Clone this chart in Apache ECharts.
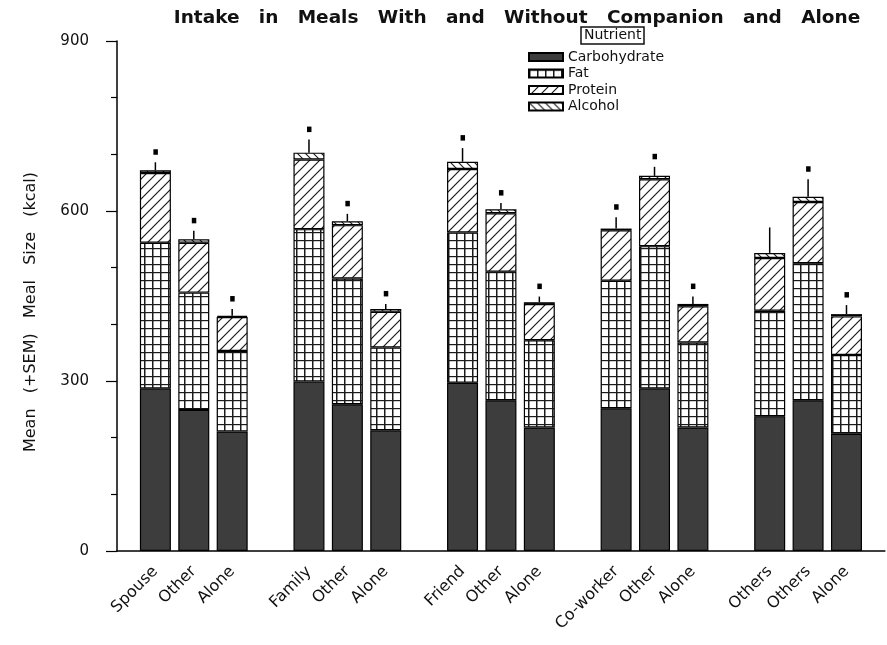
<!DOCTYPE html>
<html>
<head>
<meta charset="utf-8">
<script src="https://cdn.jsdelivr.net/npm/echarts@6/dist/echarts.min.js"></script>
<style>
  html, body { margin: 0; padding: 0; background: #fff; }
  #chart { width: 887px; height: 645px; }
</style>
</head>
<body>
<div id="chart"></div>
<script>
// Mean meal size (kcal) split by macronutrient, for meals eaten with a companion,
// with others, and alone.
const barLabels = ['Spouse', 'Other', 'Alone', 'Family', 'Other', 'Alone', 'Friend', 'Other', 'Alone',
                   'Co-worker', 'Other', 'Alone', 'Others', 'Others', 'Alone'];
const carbohydrate = [287, 249, 211, 299, 259, 213, 297, 266, 218, 252, 287, 218, 238, 266, 207];
const fat          = [257, 207, 142, 269, 222, 146, 265, 227, 154, 225, 251, 150, 186, 242, 139];
const protein      = [123,  88,  60, 123,  94,  63, 112, 103,  64,  89, 118,  64,  93, 108,  68];
const alcohol      = [  5,   6,   2,  12,   7,   5,  13,   7,   3,   3,   6,   4,   9,   9,   4];
const sem          = [ 14,  15,  12,  23,  13,   9,  24,  11,  10,  20,  16,  13,  45,  31,  16];
const significant  = [  1,   1,   1,   1,   1,   1,   1,   1,   1,   1,   1,   1,   0,   1,   1];
const nutrientNames = ['Carbohydrate', 'Fat', 'Protein', 'Alcohol'];
const yMax = 900, yStep = 300;

const FONT = 'DejaVu Sans';
const INK = '#111';

// three bars per group, an empty slot between groups and at both ends
const groupSize = 3;
const slotOf = i => 1 + i + Math.floor(i / groupSize);
const slotCount = slotOf(barLabels.length - 1) + 2;
const axisCategories = new Array(slotCount).fill('');
barLabels.forEach((name, i) => { axisCategories[slotOf(i)] = name; });

function toSlots(values) {
  const out = new Array(slotCount).fill('-');
  values.forEach((v, i) => { out[slotOf(i)] = v; });
  return out;
}

// fill patterns
function tile(w, h, draw) {
  const c = document.createElement('canvas');
  c.width = w; c.height = h;
  const ctx = c.getContext('2d');
  ctx.fillStyle = '#fff';
  ctx.fillRect(0, 0, w, h);
  ctx.strokeStyle = '#1a1a1a';
  draw(ctx);
  return { image: c, repeat: 'repeat' };
}
const gridFill = tile(8, 8, ctx => {
  ctx.lineWidth = 1.5;
  ctx.beginPath(); ctx.moveTo(0.75, 0); ctx.lineTo(0.75, 8); ctx.stroke();
  ctx.lineWidth = 1.2;
  ctx.beginPath(); ctx.moveTo(0, 0.6); ctx.lineTo(8, 0.6); ctx.stroke();
});
const forwardHatch = tile(10, 10, ctx => {
  ctx.lineWidth = 1.2;
  ctx.beginPath();
  ctx.moveTo(-1, 11); ctx.lineTo(11, -1);
  ctx.moveTo(-1, 1); ctx.lineTo(1, -1);
  ctx.moveTo(9, 11); ctx.lineTo(11, 9);
  ctx.stroke();
});
const backHatch = tile(8, 8, ctx => {
  ctx.lineWidth = 1.1;
  ctx.beginPath();
  ctx.moveTo(-1, -1); ctx.lineTo(9, 9);
  ctx.moveTo(7, -1); ctx.lineTo(9, 1);
  ctx.moveTo(-1, 7); ctx.lineTo(1, 9);
  ctx.stroke();
});
const fills = ['#3d3d3d', gridFill, forwardHatch, backHatch];
const layers = [carbohydrate, fat, protein, alcohol];

const barSeries = layers.map((vals, k) => ({
  name: nutrientNames[k],
  type: 'bar',
  stack: 'meal',
  barWidth: 31,
  data: toSlots(vals),
  itemStyle: { color: fills[k], borderColor: '#000', borderWidth: 1.2 },
  emphasis: { disabled: true },
  animation: false
}));

// error bars (+SEM) and significance markers
const errorData = barLabels.map((_, i) => [
  slotOf(i),
  carbohydrate[i] + fat[i] + protein[i] + alcohol[i],
  sem[i],
  significant[i]
]);
const errorSeries = {
  type: 'custom',
  data: errorData,
  encode: { x: 0, y: 1 },
  z: 5,
  silent: true,
  animation: false,
  renderItem(params, api) {
    const x = api.value(0), total = api.value(1), err = api.value(2), mark = api.value(3);
    const base = api.coord([x, total]);
    const top = api.coord([x, total + err]);
    const children = [{
      type: 'line',
      shape: { x1: base[0], y1: base[1], x2: top[0], y2: top[1] },
      style: { stroke: '#000', lineWidth: 1.5 }
    }];
    if (mark) {
      children.push({
        type: 'rect',
        shape: { x: top[0] - 2, y: top[1] - 13, width: 4.5, height: 5.5 },
        style: { fill: '#000' }
      });
    }
    return { type: 'group', children };
  }
};

const chart = echarts.init(document.getElementById('chart'), null, { renderer: 'canvas' });
chart.setOption({
  backgroundColor: '#fff',
  animation: false,
  title: [{
    text: 'Intake   in   Meals   With   and   Without   Companion   and   Alone',
    left: 512,
    top: 4,
    textAlign: 'center',
    textStyle: { fontFamily: FONT, fontWeight: 'bold', fontSize: 18.5, color: INK }
  }, {
    text: 'Nutrient',
    left: 581,
    top: 27,
    padding: [1, 3, 1, 3],
    borderColor: '#111',
    borderWidth: 1.5,
    textStyle: { fontFamily: FONT, fontWeight: 'normal', fontSize: 14, color: INK, lineHeight: 15 }
  }],
  legend: {
    data: nutrientNames,
    orient: 'vertical',
    left: 528,
    top: 50,
    padding: 0,
    icon: 'rect',
    itemWidth: 34,
    itemHeight: 8,
    itemGap: 2.5,
    selectedMode: false,
    textStyle: { fontFamily: FONT, fontSize: 14, color: INK, lineHeight: 14 }
  },
  grid: { left: 117, top: 41, width: 770, height: 510 },
  xAxis: {
    type: 'category',
    data: axisCategories,
    boundaryGap: false,
    axisLine: { lineStyle: { color: '#000', width: 1.5 } },
    axisTick: { show: false },
    axisLabel: {
      interval: 0,
      rotate: 45,
      margin: 18,
      fontFamily: FONT,
      fontSize: 16,
      color: INK
    },
    splitLine: { show: false }
  },
  yAxis: {
    type: 'value',
    min: 0,
    max: yMax,
    interval: yStep,
    name: 'Mean   (+SEM)   Meal   Size   (kcal)',
    nameLocation: 'middle',
    nameGap: 78,
    nameTextStyle: { fontFamily: FONT, fontSize: 16, color: INK, padding: [0, 32, 0, 0] },
    axisLine: { show: true, lineStyle: { color: '#000', width: 1.5 } },
    axisTick: { show: true, length: 11, lineStyle: { color: '#000', width: 1.2 } },
    minorTick: { show: true, splitNumber: 3, length: 6, lineStyle: { color: '#000', width: 1.2 } },
    axisLabel: { margin: 28, fontFamily: FONT, fontSize: 15, color: INK },
    splitLine: { show: false }
  },
  series: [...barSeries, errorSeries]
});
</script>
</body>
</html>
